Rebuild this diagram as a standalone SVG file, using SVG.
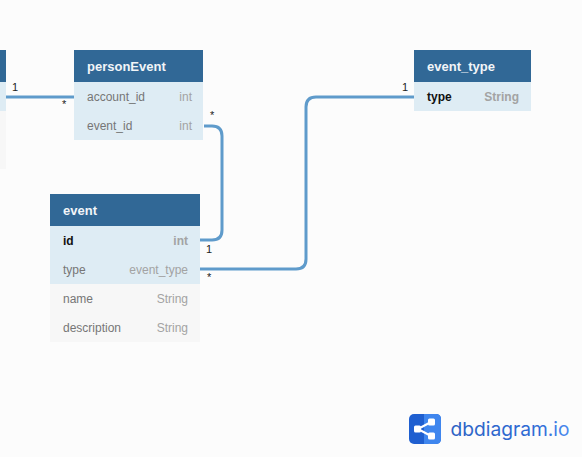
<svg xmlns="http://www.w3.org/2000/svg" width="582" height="457" viewBox="0 0 582 457">
<style>
text{font-family:"Liberation Sans",Arial,sans-serif;font-size:12px}
.h{fill:#316896}
.b{fill:#deecf4}
.g{fill:#f7f7f7}
.t{font-size:13px;font-weight:700;fill:#f1f5f8}
.n{fill:#767676}
.k{fill:#111;font-weight:700}
.ty{fill:#a3a3a3;text-anchor:end}
.tb{fill:#a3a3a3;text-anchor:end;font-weight:700}
.c{fill:none;stroke:#5f9bcb;stroke-width:3}
.l{font-size:11px;fill:#222}
</style>
<defs><linearGradient id="lg" x1="0" x2="1" y1="0" y2="0"><stop offset="0" stop-color="#2d62c4"/><stop offset="0.75" stop-color="#2f6bd6"/><stop offset="1" stop-color="#4d8cf0"/></linearGradient></defs>
<rect width="582" height="457" fill="#fcfcfc"/>
<g id="connectors">
<path class="c" d="M6 97H74"/>
<path class="c" d="M204 126H212Q222 126 222 136V230Q222 240 212 240H200"/>
<path class="c" d="M200 269H296Q306 269 306 259V107Q306 97 316 97H414"/>
</g>
<g id="labels">
<text class="l" x="12" y="91">1</text>
<text class="l" x="62" y="108">*</text>
<text class="l" x="210" y="119">*</text>
<text class="l" x="206" y="253">1</text>
<text class="l" x="207" y="281">*</text>
<text class="l" x="402" y="91">1</text>
</g>
<g id="table-left">
<rect class="h" x="0" y="50" width="6" height="32"/>
<rect class="b" x="0" y="82" width="6" height="29"/>
<rect class="g" x="0" y="111" width="6" height="58"/>
</g>
<g id="personEvent">
<rect class="h" x="74" y="50" width="129" height="32"/>
<rect class="b" x="74" y="82" width="129" height="58"/>
<text class="t" x="87" y="71">personEvent</text>
<text class="n" x="87" y="101">account_id</text>
<text class="ty" x="192" y="101">int</text>
<text class="n" x="87" y="130">event_id</text>
<text class="ty" x="192" y="130">int</text>
</g>
<g id="event">
<rect class="h" x="50" y="194" width="150" height="32"/>
<rect class="b" x="50" y="226" width="150" height="58"/>
<rect class="g" x="50" y="284" width="150" height="58"/>
<text class="t" x="63" y="215">event</text>
<text class="k" x="63" y="245">id</text>
<text class="tb" x="188" y="245">int</text>
<text class="n" x="63" y="274">type</text>
<text class="ty" x="188" y="274">event_type</text>
<text class="n" x="63" y="303">name</text>
<text class="ty" x="188" y="303">String</text>
<text class="n" x="63" y="332">description</text>
<text class="ty" x="188" y="332">String</text>
</g>
<g id="event_type">
<rect class="h" x="414" y="50" width="117" height="32"/>
<rect class="b" x="414" y="82" width="117" height="29"/>
<text class="t" x="427" y="71">event_type</text>
<text class="k" x="427" y="101">type</text>
<text class="tb" x="519" y="101">String</text>
</g>
<g id="logo">
<rect x="409" y="414" width="32" height="30" rx="5" fill="#1f5fd0"/>
<path d="M424 414H436Q441 414 441 419V439Q441 444 436 444H424Z" fill="#3f86ee"/>
<path d="M418 429L431 422M418 429L431 436" stroke="#fff" stroke-width="2" fill="none"/>
<rect x="414" y="425.500" width="7" height="7" rx="1.500" fill="#fff"/>
<rect x="428" y="418.500" width="7" height="7" rx="1.500" fill="#fff"/>
<rect x="428" y="432.500" width="7" height="7" rx="1.500" fill="#fff"/>
<text x="450.500" y="435.500" textLength="119" lengthAdjust="spacingAndGlyphs" style="font-family:Inter,'Open Sans',sans-serif;font-size:19px" fill="url(#lg)">dbdiagram.io</text>
</g>
</svg>
